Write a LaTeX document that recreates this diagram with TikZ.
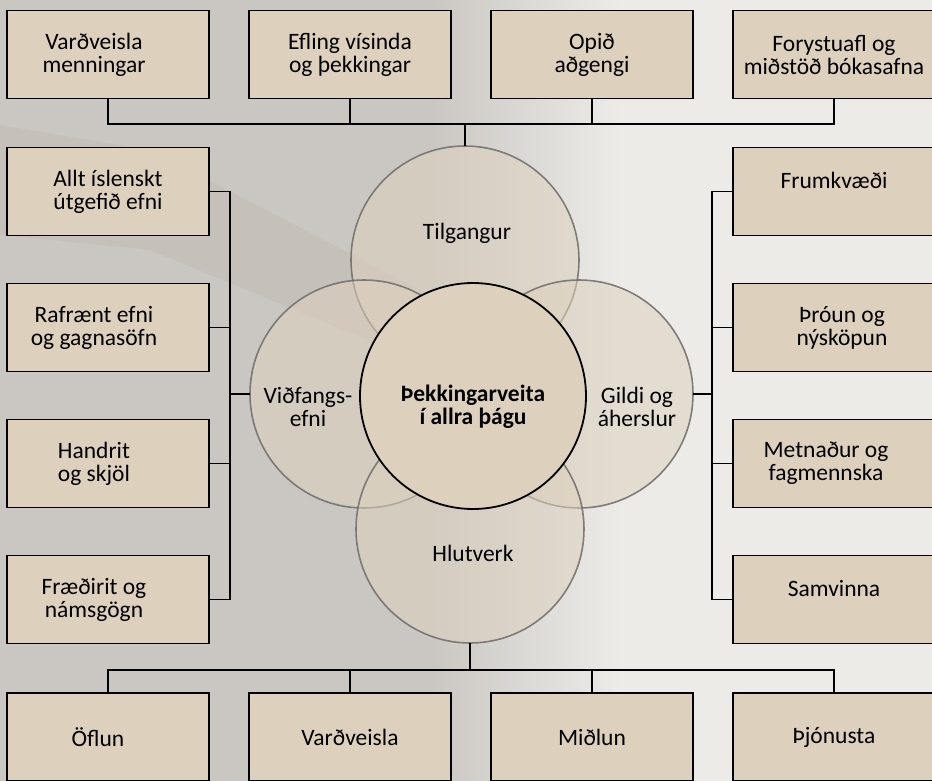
\documentclass[tikz,border=0pt]{standalone}
\usepackage{fontspec}
\setmainfont{Carlito}
\usetikzlibrary{positioning,calc}
\definecolor{boxfill}{HTML}{DDD1BE}
\definecolor{rimgray}{HTML}{6E6B68}
\definecolor{stone}{HTML}{CAC7C2}
\definecolor{paper}{HTML}{ECEBE8}
\definecolor{shadow}{HTML}{B3A897}
\newcommand{\padr}{\hspace*{28pt}}

\begin{document}
\begin{tikzpicture}[x=1pt,y=-1pt,every node/.style={outer sep=0pt},
		topic/.style={draw,line width=1.6pt,fill=boxfill,minimum width=202pt,
		minimum height=88pt,align=center,inner sep=2pt,
		font=\fontsize{23.5}{23}\selectfont},
		petal/.style={circle,draw=rimgray,line width=1.6pt,fill=boxfill,
		fill opacity=0.55,draw opacity=0.85,minimum size=228pt},
		hub/.style={circle,draw,line width=1.8pt,fill=boxfill,minimum size=226pt},
		caption/.style={align=center,font=\fontsize{23.5}{23}\selectfont},
		link/.style={line width=1.6pt},
		]
		% background
		\useasboundingbox (0,0) rectangle (932,781);
		\fill[stone] (0,0) rectangle (932,781);
		\shade[left color=stone,right color=paper] (430,0) rectangle (620,781);
		\fill[paper] (620,0) rectangle (932,781);
		\fill[shadow,opacity=0.18] (0,125) -- (150,150) -- (440,300) -- (440,370) -- (150,250) -- (0,235) -- cycle;

		% top row
		\node[topic] (t1) at (108,54.5) {Varðveisla\padr\\menningar\padr};
		\node[topic,right=40pt of t1] (t2) {Efling vísinda\\og þekkingar};
		\node[topic,right=40pt of t2] (t3) {Opið\\aðgengi};
		\node[topic,right=40pt of t3] (t4) {Forystuafl og\\miðstöð bókasafna};

		% left column
		\node[topic] (l1) at (108,191.5) {Allt íslenskt\\útgefið efni};
		\node[topic,below=48pt of l1] (l2) {Rafrænt efni\padr\\og gagnasöfn\padr};
		\node[topic,below=48pt of l2] (l3) {Handrit\padr\\og skjöl\padr};
		\node[topic,below=48pt of l3] (l4) {Fræðirit og\padr\\námsgögn\padr};

		% right column
		\node[topic] (r1) at (834,191.5) {Frumkvæði\\\mbox{}};
		\node[topic,below=48pt of r1] (r2) {\hspace*{16pt}Þróun og\\\hspace*{16pt}nýsköpun};
		\node[topic,below=48pt of r2] (r3) {Metnaður og\hspace*{16pt}\\fagmennska\hspace*{16pt}};
		\node[topic,below=48pt of r3] (r4) {Samvinna\\\mbox{}};

		% bottom row
		\node[topic] (b1) at (108,737) {Öflun\hspace*{20pt}};
		\node[topic,right=40pt of b1] (b2) {Varðveisla};
		\node[topic,right=40pt of b2] (b3) {Miðlun};
		\node[topic,right=40pt of b3] (b4) {Þjónusta};

		% circles
		\node[petal] (tilg) at (465,260) {};
		\node[petal] (vid) at (364,394) {};
		\node[petal] (gildi) at (579,394) {};
		\node[petal] (hlut) at (470,529) {};
		\node[hub] (core) at (473,396) {};

		\node[caption] (tilgtxt) at (467,233) {Tilgangur};
		\node[caption] (vidtxt) at (308,407) {Viðfangs-\\efni};
		\node[caption] (gilditxt) at (637,407) {Gildi og\\áherslur};
		\node[caption] (hluttxt) at (473,553) {Hlutverk};
		\node[caption,font=\fontsize{23.5}{23}\selectfont\bfseries] (coretxt) at (473,407) {Þekkingarveita\\í allra þágu};

		% connectors
		\coordinate (topbus) at (0,124);
		\coordinate (lbus) at (230,0);
		\coordinate (rbus) at (712,0);
		\coordinate (lowbus) at (0,670);

		\draw[link] (t1.south) |- (t4.south |- topbus) -- (t4.south);
		\draw[link] (t2.south) -- (t2.south |- topbus);
		\draw[link] (t3.south) -- (t3.south |- topbus);
		\draw[link] (tilg.north) -- (tilg.north |- topbus);

		\draw[link] (l1.east) -| (lbus |- l4.east) -- (l4.east);
		\draw[link] (l2.east) -- (l2.east -| lbus);
		\draw[link] (l3.east) -- (l3.east -| lbus);
		\draw[link] (vid.west) -- (vid.west -| lbus);

		\draw[link] (r1.west) -| (rbus |- r4.west) -- (r4.west);
		\draw[link] (r2.west) -- (r2.west -| rbus);
		\draw[link] (r3.west) -- (r3.west -| rbus);
		\draw[link] (gildi.east) -- (gildi.east -| rbus);

		\draw[link] (b1.north) |- (b4.north |- lowbus) -- (b4.north);
		\draw[link] (b2.north) -- (b2.north |- lowbus);
		\draw[link] (b3.north) -- (b3.north |- lowbus);
		\draw[link] (hlut.south) -- (hlut.south |- lowbus);
\end{tikzpicture}
\end{document}
